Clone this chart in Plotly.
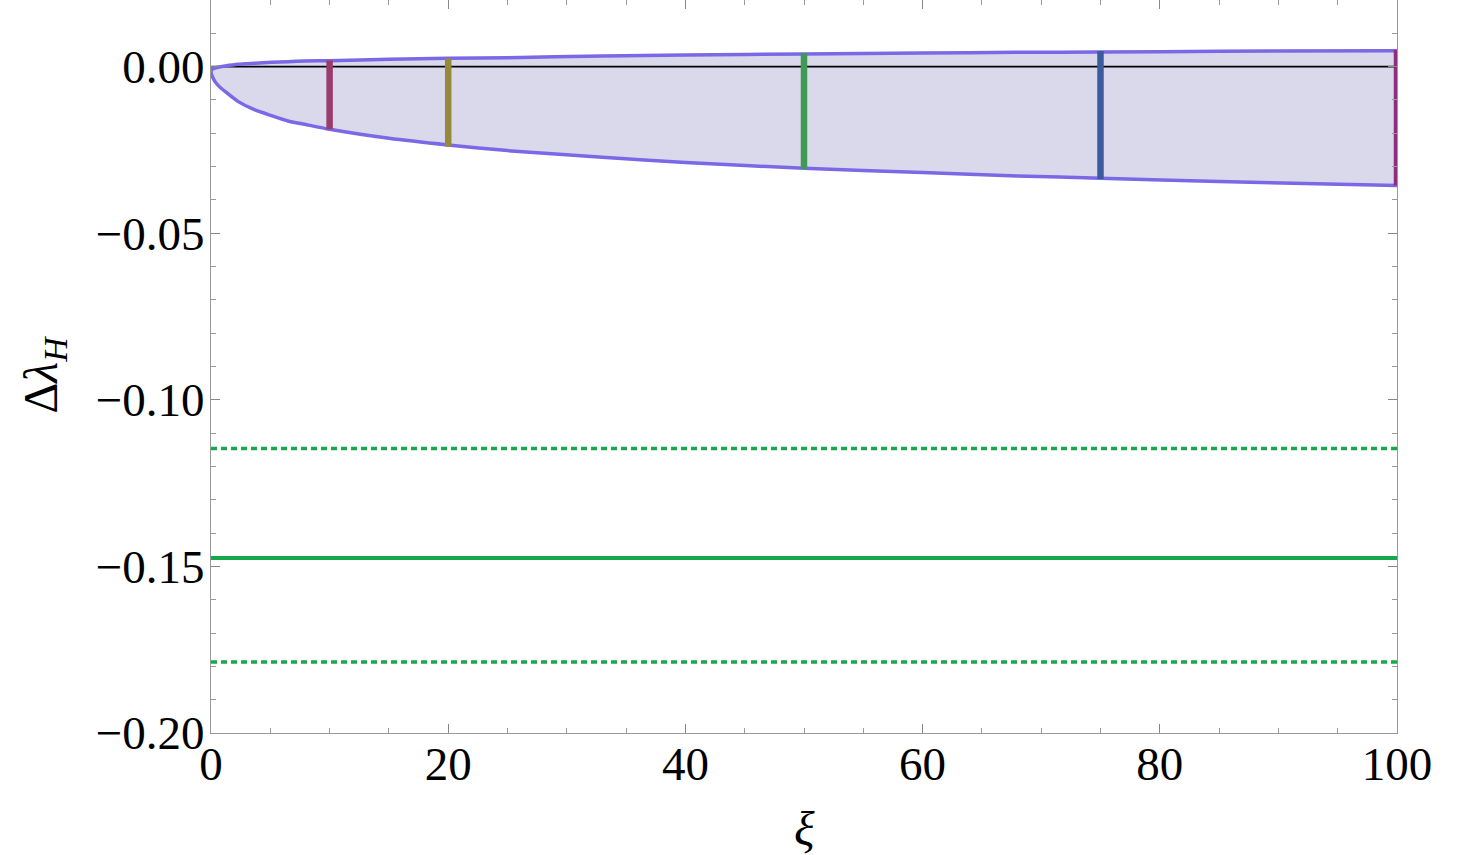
import plotly.graph_objects as go

# Boundary of the allowed region
xi_bound = [0, 0.04, 0.12, 0.34, 0.7, 1.2, 2.3, 3.7, 5.1, 6.5, 7.9, 10, 15, 20, 25, 33, 40, 50, 60, 68, 75, 85, 100]
upper = [-0.0015, -0.0010, -0.0007, -0.0004, -0.0001, 0.0002, 0.0007, 0.0010, 0.0013, 0.0015, 0.0017, 0.0018,
         0.0022, 0.0025, 0.0027, 0.0032, 0.0035, 0.0038, 0.0041, 0.0043, 0.0044, 0.0046, 0.0048]
lower = [-0.0015, -0.0023, -0.0030, -0.0045, -0.0060, -0.0075, -0.0105, -0.0130, -0.0147, -0.0163, -0.0173,
         -0.0188, -0.0215, -0.0235, -0.0252, -0.0272, -0.0288, -0.0305, -0.0318, -0.0328, -0.0335, -0.0345, -0.0357]

# Vertical segments at selected xi
seg_xi = [10, 20, 50, 75, 100]
seg_lo = [-0.0188, -0.0240, -0.0307, -0.0337, -0.0357]
seg_hi = [0.0018, 0.0025, 0.0040, 0.0047, 0.0050]
seg_colors = ["#9B3A6C", "#958A3C", "#3F9A55", "#3A5C9C", "#8E2C80"]

# Horizontal green reference lines
central_val = -0.1475
band_lo = -0.1787
band_hi = -0.1146

x_range = [0, 100]

fig = go.Figure()

# filled region
fig.add_trace(go.Scatter(
    x=xi_bound + xi_bound[::-1], y=upper + lower[::-1],
    fill="toself", fillcolor="#D9D9EB", mode="none", hoverinfo="skip", showlegend=False))

# zero line
fig.add_trace(go.Scatter(x=x_range, y=[0, 0], mode="lines",
                         line=dict(color="black", width=1.6), showlegend=False))

# boundary lines
fig.add_trace(go.Scatter(x=xi_bound, y=upper, mode="lines",
                         line=dict(color="#7B68E6", width=3.5, shape="spline", smoothing=0.6),
                         showlegend=False))
fig.add_trace(go.Scatter(x=xi_bound, y=lower, mode="lines",
                         line=dict(color="#7B68E6", width=3.5, shape="spline", smoothing=0.6),
                         showlegend=False))

# colored segments
for x, lo, hi, c in zip(seg_xi, seg_lo, seg_hi, seg_colors):
    fig.add_trace(go.Scatter(x=[x, x], y=[lo, hi], mode="lines",
                             line=dict(color=c, width=6.5), showlegend=False))

# green lines
fig.add_trace(go.Scatter(x=x_range, y=[central_val] * 2, mode="lines",
                         line=dict(color="#16A84A", width=4), showlegend=False))
for v in (band_lo, band_hi):
    fig.add_trace(go.Scatter(x=x_range, y=[v] * 2, mode="lines",
                             line=dict(color="#16A84A", width=3.5, dash="6px,4px"), showlegend=False))

tickfont = dict(family="Liberation Serif", size=47, color="black")

fig.update_xaxes(range=x_range, tickmode="linear", tick0=0, dtick=20,
                 ticks="inside", ticklen=9, tickwidth=1, tickcolor="#888",
                 minor=dict(ticks="inside", ticklen=5, dtick=5, tickcolor="#999", tickwidth=1),
                 showline=True, linecolor="#999", linewidth=1, mirror="ticks",
                 showgrid=False, zeroline=False, tickfont=tickfont, ticklabelstandoff=-10)
fig.update_yaxes(range=[-0.2, 0.02], tickmode="linear", tick0=0, dtick=0.05, tickformat=".2f",
                 ticks="inside", ticklen=9, tickwidth=1, tickcolor="#888",
                 minor=dict(ticks="inside", ticklen=5, dtick=0.01, tickcolor="#999", tickwidth=1),
                 showline=True, linecolor="#999", linewidth=1, mirror="ticks",
                 showgrid=False, zeroline=False, tickfont=tickfont, ticklabelstandoff=-4)

fig.update_layout(
    width=1459, height=855,
    margin=dict(l=211, r=62, t=0, b=122),
    plot_bgcolor="white", paper_bgcolor="white",
    showlegend=False,
    annotations=[
        dict(text="Δ<i>λ</i><sub><i>H</i></sub>", xref="paper", yref="paper",
             x=0, y=0.5, xshift=-168, yshift=-8, textangle=-90, showarrow=False,
             xanchor="center", yanchor="middle",
             font=dict(family="Liberation Serif", size=48, color="black")),
        dict(text="<i>ξ</i>", xref="paper", yref="paper",
             x=0.5, y=0, yshift=-95, showarrow=False,
             xanchor="center", yanchor="middle",
             font=dict(family="Liberation Serif", size=48, color="black")),
    ],
)

fig.write_html("out.html")
